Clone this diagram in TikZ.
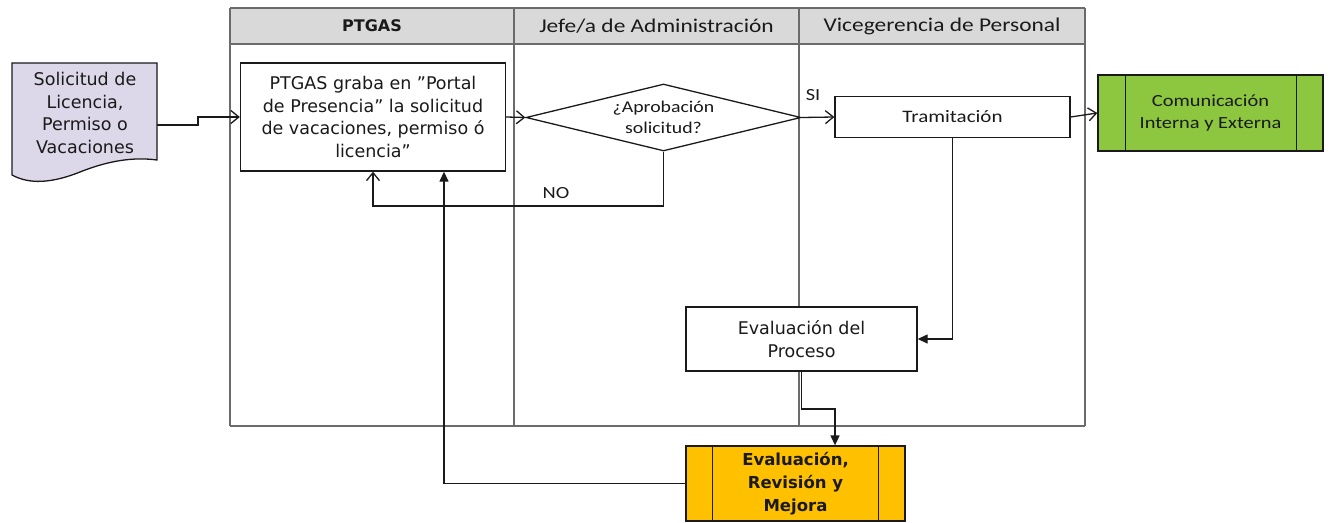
\documentclass[tikz,border=0pt]{standalone}
\usepackage{fontspec}
\setmainfont{DejaVu Sans}
\newfontfamily\cfont[FakeStretch=1.2]{Carlito}
\usetikzlibrary{arrows.meta,shapes.geometric}
\definecolor{hdrgray}{HTML}{D9D9D9}
\definecolor{framegray}{HTML}{6B6B6B}
\definecolor{docfill}{HTML}{DCD8EA}
\definecolor{grn}{HTML}{8DC63F}
\definecolor{org}{HTML}{FFC000}
\definecolor{ink}{HTML}{1A1A1A}
\tikzset{
  frame/.style={draw=framegray, line width=2pt},
  hdr/.style={font=\cfont\fontsize{19.5}{24}\selectfont, text=ink},
  hdrb/.style={font=\bfseries\fontsize{16}{20}\selectfont, text=ink},
  stepbox/.style={draw=ink, line width=1.3pt, fill=white, rectangle, inner sep=0pt, align=center,
    font=\fontsize{17.5}{22.5}\selectfont, text=ink},
  cbox/.style={draw=ink, line width=1.3pt, fill=white, rectangle, inner sep=0pt, align=center,
    font=\cfont\fontsize{17.5}{21.5}\selectfont, text=ink},
  decide/.style={draw=ink, line width=1.3pt, fill=white, diamond, aspect=4.1, inner sep=0pt, align=center,
    font=\cfont\fontsize{16.5}{21}\selectfont, text=ink},
  lbl/.style={font=\cfont\fontsize{17}{20}\selectfont, text=ink, inner sep=0pt},
  conn/.style={draw=ink, line width=1.3pt},
  oarr/.style={conn, -{Straight Barb[length=8pt,width=13pt,line width=1.3pt]}},
  farr/.style={conn, -{Triangle[length=10pt,width=9pt]}},
}
\begin{document}
\begin{tikzpicture}[x=1pt,y=-1pt]
\useasboundingbox (0,0) rectangle (1330,522);
% swimlane header and frame
\fill[hdrgray] (230,8) rectangle (1085,44);
\draw[frame] (230,8) -- (1085,8);
\draw[frame] (230,44) -- (1085,44);
\draw[frame] (230,426) -- (1085,426);
\draw[frame] (230,8) -- (230,426);
\draw[frame] (514,8) -- (514,426);
\draw[frame] (799,8) -- (799,426);
\draw[frame] (1085,8) -- (1085,426);
\node[hdrb] (h1) at (372,26) {PTGAS};
\node[hdr] (h2) at (656.5,26) {Jefe/a de Administración};
\node[hdr] (h3) at (942,26) {Vicegerencia de Personal};
% document shape
\draw[draw=ink, line width=1.3pt, fill=docfill]
  (12,63) -- (157,63) -- (157,160) .. controls (135,157) and (110,160) .. (80,172)
  .. controls (45,186) and (25,182) .. (12,175) -- cycle;
\node[align=center, font=\fontsize{17.5}{22.5}\selectfont, text=ink] (doc) at (85,113)
  {Solicitud de\\Licencia,\\Permiso o\\Vacaciones};
\coordinate (docout) at (157,125);
% process nodes
\node[stepbox, minimum width=265pt, minimum height=108pt] (ptg) at (373,117)
  {PTGAS graba en ”Portal\\de Presencia” la solicitud\\de vacaciones, permiso ó\\licencia”};
\node[decide, minimum width=275pt, minimum height=67pt] (dia) at (663.5,117.5)
  {¿Aprobación\\solicitud?};
\node[cbox, minimum width=235pt, minimum height=41pt] (tram) at (952.5,117) {Tramitación};
\node[cbox, fill=grn, minimum width=225pt, minimum height=76pt, font=\cfont\fontsize{17}{22}\selectfont] (com) at (1210.5,113)
  {Comunicación\\Interna y Externa};
\draw[ink, line width=1.3pt] ([xshift=28pt]com.north west) -- ([xshift=28pt]com.south west);
\draw[ink, line width=1.3pt] ([xshift=-27pt]com.north east) -- ([xshift=-27pt]com.south east);
\node[stepbox, minimum width=231pt, minimum height=64pt] (evp) at (801.5,339)
  {Evaluación del\\Proceso};
\node[stepbox, fill=org, minimum width=219pt, minimum height=75pt, font=\bfseries\fontsize{16.5}{23}\selectfont] (ere) at (795.5,483.5)
  {Evaluación,\\Revisión y\\Mejora};
\draw[ink, line width=1.3pt] ([xshift=27pt]ere.north west) -- ([xshift=27pt]ere.south west);
\draw[ink, line width=1.3pt] ([xshift=-27pt]ere.north east) -- ([xshift=-27pt]ere.south east);
% labels
\node[lbl] (si) at (813,95) {SI};
\node[lbl] (no) at (556,193) {NO};
% connectors
\draw[oarr] (docout) -- ++(41,0) |- (ptg.west);
\draw[oarr] (ptg.east) -- (dia.west);
\draw[oarr] (dia.east) -- (tram.west);
\draw[oarr] (tram.east) -- (com.west);
\coordinate (nobend) at (663.5,206);
\draw[oarr] (dia.south) -- (nobend) -| (ptg.south);
\draw[farr] (tram.south) |- (evp.east);
\coordinate (evbend) at (835,409);
\draw[farr] (evp.south) |- (evbend) -- (evbend |- ere.north);
\draw[farr] (ere.west) -| ([xshift=71pt]ptg.south);
\end{tikzpicture}
\end{document}
